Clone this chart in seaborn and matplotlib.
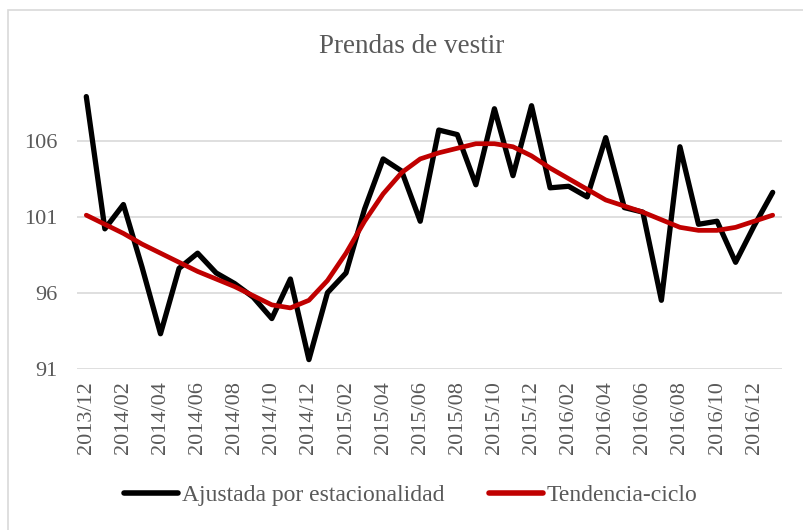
import matplotlib
matplotlib.use("Agg")
import matplotlib.pyplot as plt
import seaborn as sns
import pandas as pd
from matplotlib.patches import Rectangle

# monthly series, 2013/12 .. 2017/01
months = [f"{y}/{m:02d}" for y, m in
          [(2013, 12)] + [(2014, m) for m in range(1, 13)] +
          [(2015, m) for m in range(1, 13)] + [(2016, m) for m in range(1, 13)] +
          [(2017, 1)]]

ajustada = [108.9, 100.2, 101.8, 97.7, 93.3, 97.6, 98.6, 97.3, 96.6, 95.7,
            94.3, 96.9, 91.6, 96.0, 97.3, 101.5, 104.8, 104.0, 100.7, 106.7,
            106.4, 103.1, 108.1, 103.7, 108.3, 102.9, 103.0, 102.3, 106.2, 101.6,
            101.3, 95.5, 105.6, 100.5, 100.7, 98.0, 100.4, 102.6]

tendencia = [101.1, 100.5, 99.9, 99.2, 98.6, 98.0, 97.4, 96.9, 96.4, 95.8,
             95.2, 95.0, 95.5, 96.8, 98.6, 100.7, 102.5, 103.9, 104.8, 105.2,
             105.5, 105.8, 105.8, 105.6, 105.0, 104.2, 103.5, 102.8, 102.1, 101.7,
             101.3, 100.8, 100.3, 100.1, 100.1, 100.3, 100.7, 101.1]

yticks = [91, 96, 101, 106]
titulo = "Prendas de vestir"
serie1 = "Ajustada por estacionalidad"
serie2 = "Tendencia-ciclo"

df = pd.DataFrame({"idx": range(len(months)), serie1: ajustada, serie2: tendencia})
long = df.melt(id_vars="idx", var_name="serie", value_name="valor")

sns.set_style("white")
plt.rcParams["font.family"] = ["Liberation Serif", "DejaVu Serif"]
gray = "#595959"

fig = plt.figure(figsize=(8.04, 5.30), dpi=100)
ax = fig.add_axes([0.0958, 0.3043, 0.8768, 0.5737])

sns.lineplot(data=long, x="idx", y="valor", hue="serie",
             palette={serie1: "black", serie2: "#C00000"},
             linewidth=3.6, ax=ax, legend=False)
ax.lines[0].set_linewidth(3.8)
ax.lines[1].set_linewidth(3.4)

ax.set_xlim(-0.5, len(months) - 0.5)
ax.set_ylim(91, 111)
ax.set_yticks(yticks)
ax.set_yticklabels([str(v) for v in yticks], color=gray, fontsize=16)
ax.set_xticks(range(0, len(months), 2))
ax.set_xticklabels(months[::2], rotation=90, color=gray, fontsize=16)
ax.tick_params(axis="x", length=0, pad=9)
ax.tick_params(axis="y", length=0, pad=14)
ax.set_xlabel("")
ax.set_ylabel("")
ax.grid(axis="y", color="#D9D9D9", linewidth=1.2)
ax.set_axisbelow(True)
for s in ax.spines.values():
    s.set_visible(False)

fig.text(0.512, 0.912, titulo, ha="center", va="center", fontsize=19.5, color=gray)

h1, = ax.plot([], [], color="black", linewidth=4, solid_capstyle="round")
h2, = ax.plot([], [], color="#C00000", linewidth=4, solid_capstyle="round")
fig.legend([h1, h2], [serie1, serie2], loc="center", bbox_to_anchor=(0.511, 0.066),
           ncol=2, frameon=False, fontsize=17, handlelength=2.3, handletextpad=0.15,
           columnspacing=1.9, labelcolor=gray)

fig.patches.append(Rectangle((8 / 804, -0.05), 1.2, 1 - 10 / 530 + 0.05,
                             transform=fig.transFigure, fill=False,
                             edgecolor="#D9D9D9", linewidth=1.2))

fig.savefig("out.png", dpi=100)
